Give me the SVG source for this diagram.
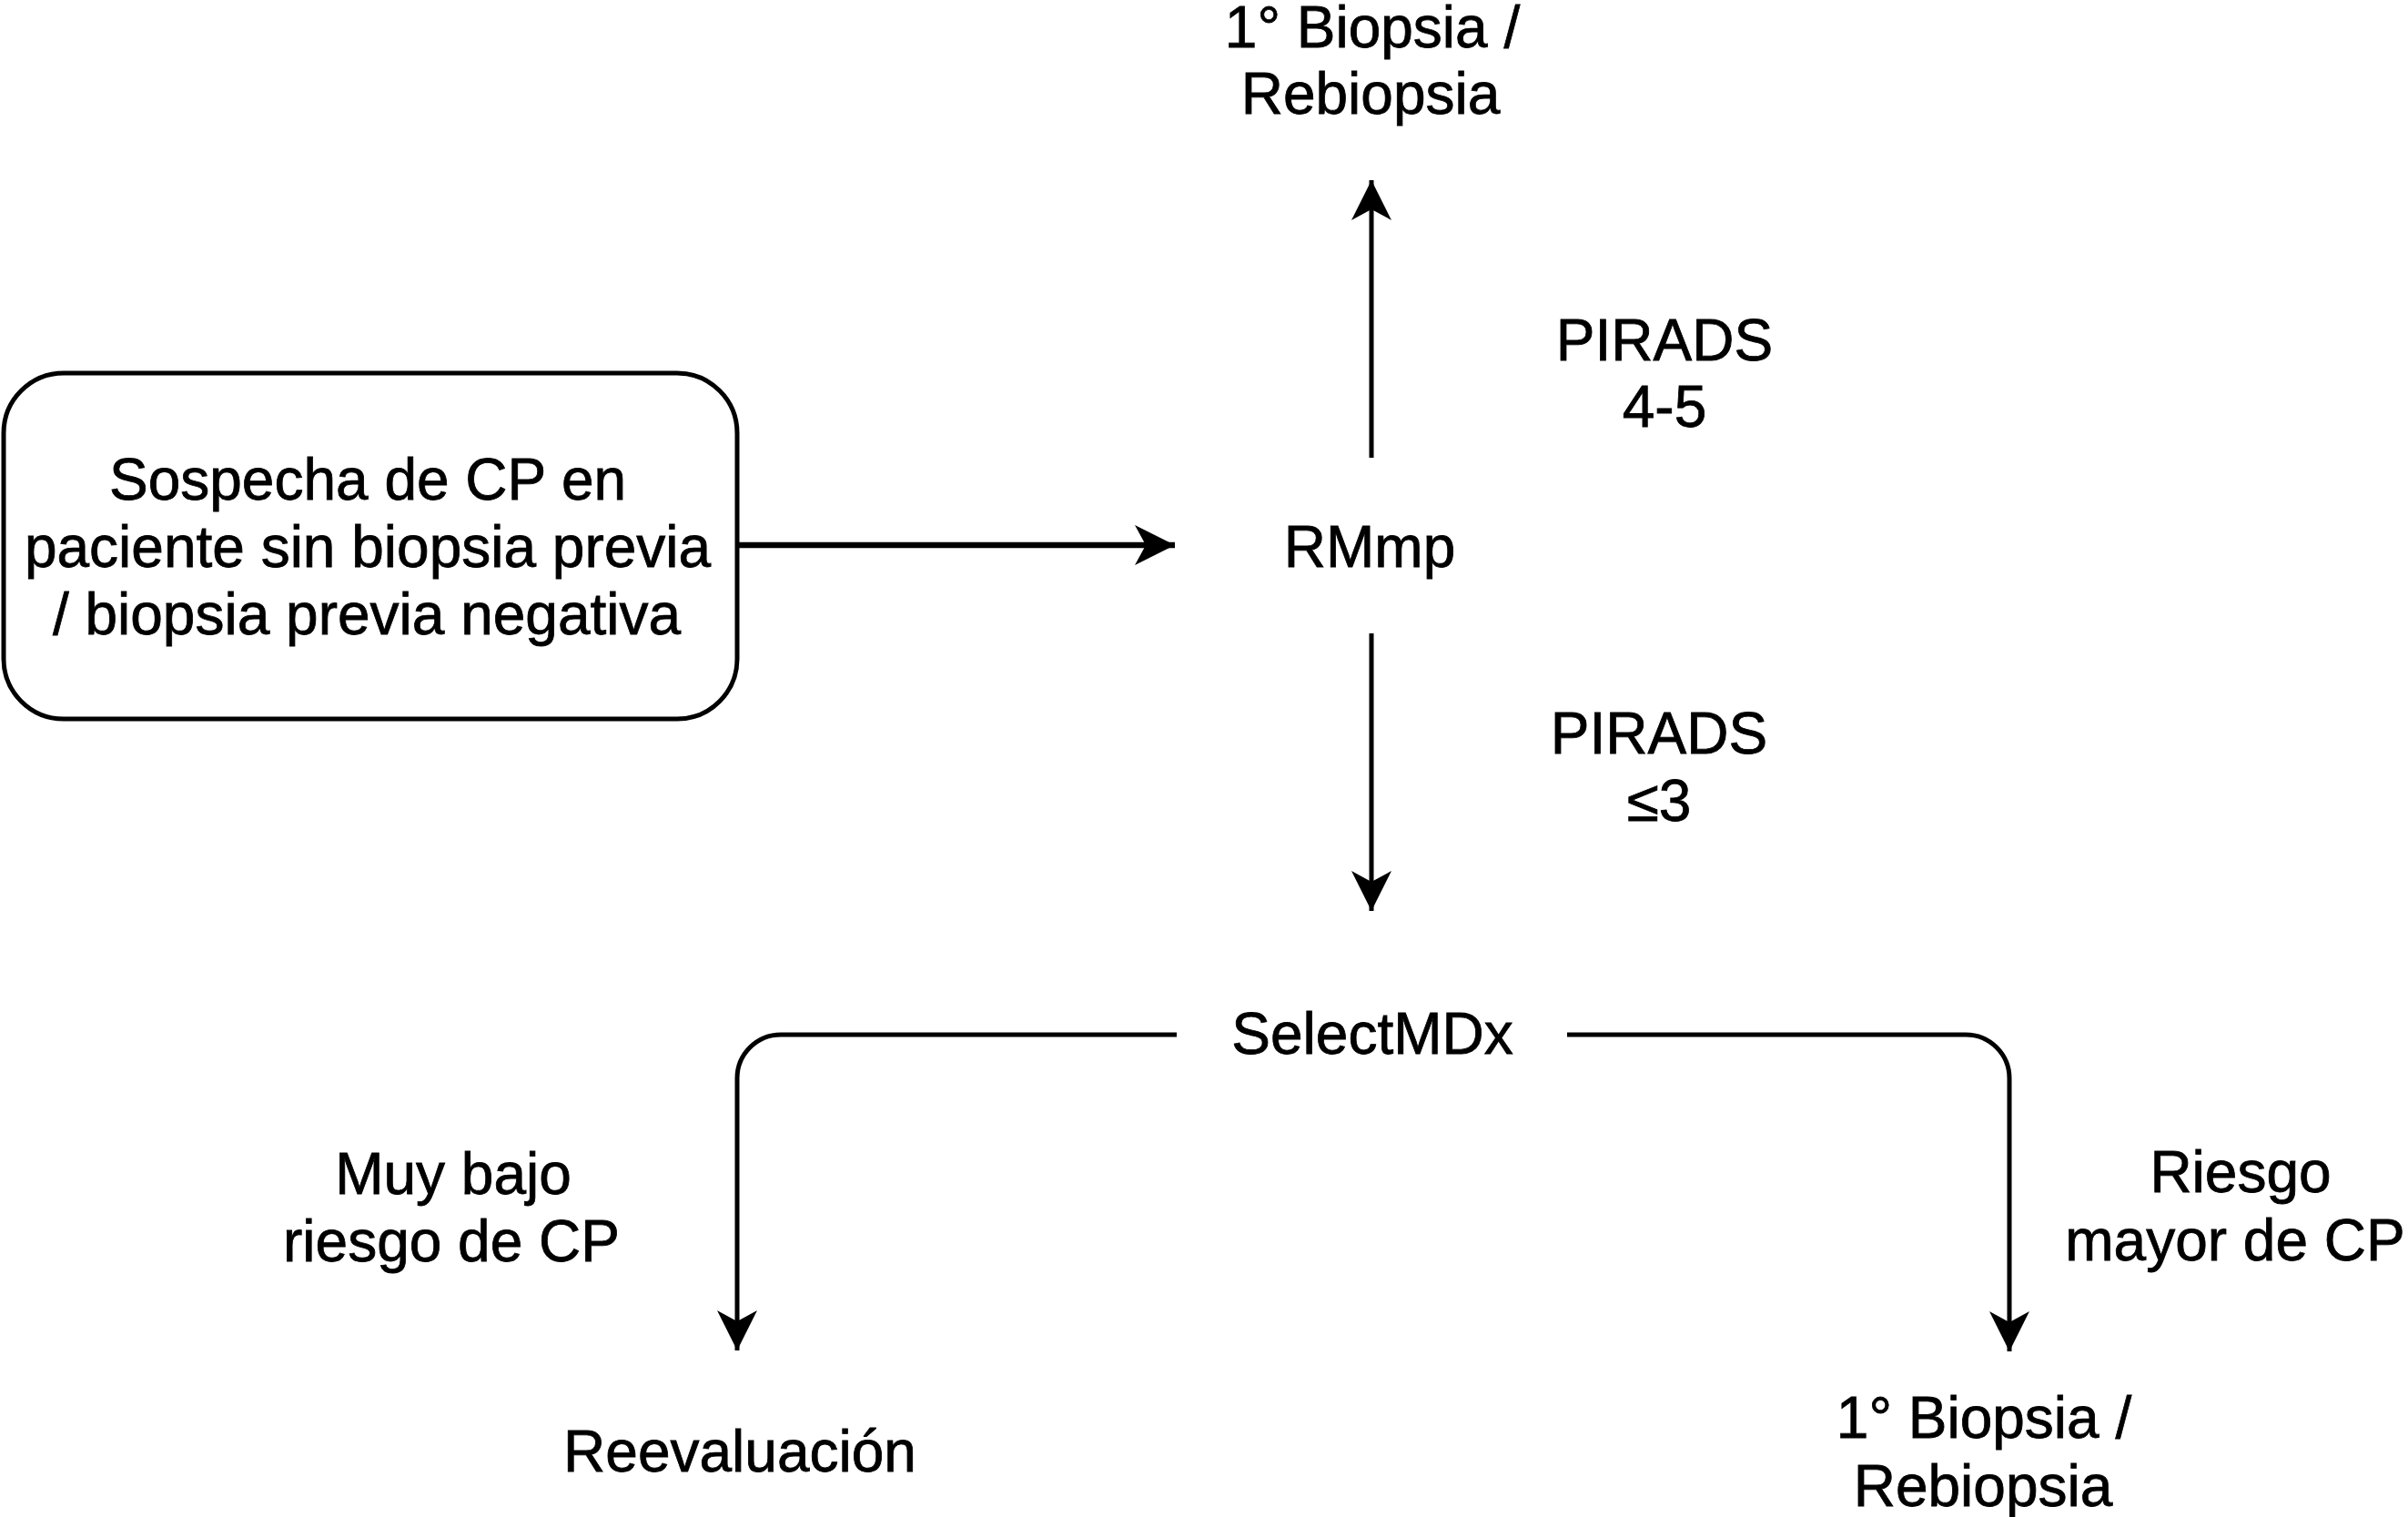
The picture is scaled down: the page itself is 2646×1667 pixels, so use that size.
<svg xmlns="http://www.w3.org/2000/svg" width="2646" height="1667" viewBox="0 0 2646 1667">
<style>
text{font-family:"Liberation Sans",Arial,sans-serif;font-size:64px;fill:#000;stroke:#000;stroke-width:0.8;text-anchor:middle}
.ln{fill:none;stroke:#000;stroke-width:5}
.hl{stroke-width:6.5}
</style>
<defs>
<marker id="ah" markerUnits="userSpaceOnUse" markerWidth="46" markerHeight="46" viewBox="0 -23 46 46" refX="44" refY="0" orient="auto">
<path d="M0,-22 L44,0 L0,22 L12,0 z" fill="#000"/>
</marker>
</defs>
<rect width="2646" height="1667" fill="#fff"/>
<g id="connectors">
<line class="ln hl" x1="810" y1="599" x2="1291" y2="599" marker-end="url(#ah)"/>
<line class="ln" x1="1507" y1="503" x2="1507" y2="198" marker-end="url(#ah)"/>
<line class="ln" x1="1507" y1="696" x2="1507" y2="1001" marker-end="url(#ah)"/>
<path class="ln" d="M1293,1137 H858" stroke-width="6.5"/>
<path class="ln" d="M858,1137 A48,48 0 0 0 810,1185 V1484" marker-end="url(#ah)"/>
<path class="ln" d="M1722,1137 H2160" stroke-width="6.5"/>
<path class="ln" d="M2160,1137 A48,48 0 0 1 2208,1185 V1485" marker-end="url(#ah)"/>
</g>
<g id="node-sospecha">
<rect class="ln" x="4" y="410" width="806" height="380" rx="66" ry="66"/>
<text x="404" y="549">Sospecha de CP en</text>
<text x="404" y="623">paciente sin biopsia previa</text>
<text x="403" y="697">/ biopsia previa negativa</text>
</g>
<g id="node-rmmp"><text x="1505" y="623">RMmp</text></g>
<g id="node-biopsia-top">
<text x="1508" y="52">1° Biopsia /</text>
<text x="1506" y="125">Rebiopsia</text>
</g>
<g id="label-pirads45">
<text x="1829" y="396">PIRADS</text>
<text x="1829" y="469">4-5</text>
</g>
<g id="label-pirads3">
<text x="1823" y="828">PIRADS</text>
<text x="1823" y="902">≤3</text>
</g>
<g id="node-selectmdx"><text x="1508" y="1158">SelectMDx</text></g>
<g id="label-muybajo">
<text x="498" y="1312">Muy bajo</text>
<text x="496" y="1386">riesgo de CP</text>
</g>
<g id="label-riesgo">
<text x="2462" y="1310">Riesgo</text>
<text x="2456" y="1385">mayor de CP</text>
</g>
<g id="node-reevaluacion"><text x="813" y="1617">Reevaluación</text></g>
<g id="node-biopsia-bottom">
<text x="2180" y="1580">1° Biopsia /</text>
<text x="2179" y="1655">Rebiopsia</text>
</g>
</svg>
